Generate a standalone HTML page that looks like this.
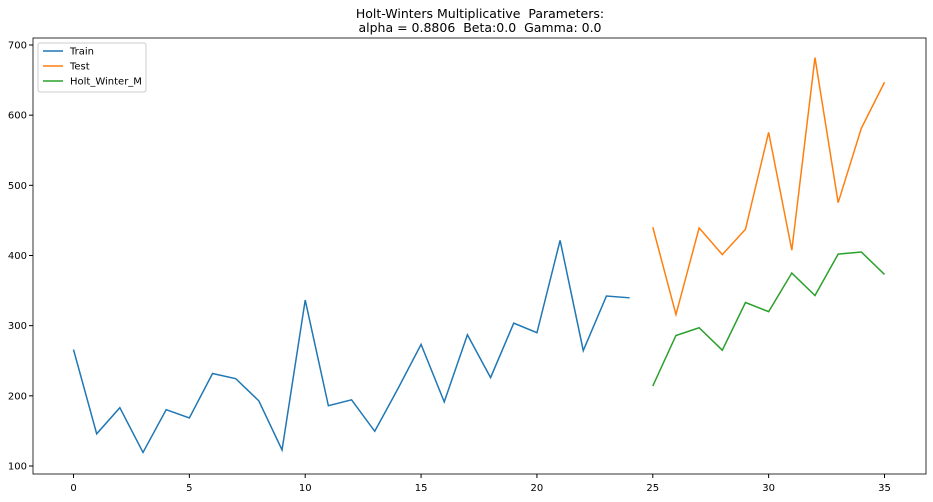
<!DOCTYPE html>
<html><head><meta charset="utf-8"><style>
body{margin:0;background:#fff;font-family:"Liberation Sans","DejaVu Sans",sans-serif}
svg text{font-family:"DejaVu Sans","Liberation Sans",sans-serif;white-space:pre}
</style></head><body>
<svg id="chart" width="933" height="497" xmlns="http://www.w3.org/2000/svg"></svg>
<script>
const trainX=[0,1,2,3,4,5,6,7,8,9,10,11,12,13,14,15,16,17,18,19,20,21,22,23,24];
const trainY=[266.0,145.9,183.1,119.3,180.3,168.5,231.8,224.5,192.8,122.9,336.5,185.9,194.3,149.5,210.1,273.3,191.4,287.0,226.0,303.6,289.9,421.6,264.5,342.3,339.7];
const testX=[25,26,27,28,29,30,31,32,33,34,35];
const testY=[440.4,315.9,439.3,401.3,437.4,575.5,407.6,682.0,475.3,581.3,646.9];
const hwY=[214,286,297,265,333,320,375,343,402,405,373];
const xTicks=[0,5,10,15,20,25,30,35];
const yTicks=[100,200,300,400,500,600,700];
const NS="http://www.w3.org/2000/svg";
const svg=document.getElementById('chart');
const L=33,R=926,T=38,B=474;
const sx=v=>73.5+(v-0)*(884.5-73.5)/35;
const sy=v=>466-(v-100)*(466-45)/600;
function mk(tag,attrs,parent){const e=document.createElementNS(NS,tag);for(const k in attrs)e.setAttribute(k,attrs[k]);(parent||svg).appendChild(e);return e;}
let t1=mk('text',{x:480,y:18,'text-anchor':'middle','font-size':12.5,fill:'#000'});t1.textContent='Holt-Winters Multiplicative  Parameters:';


let t2=mk('text',{x:480,y:32,'text-anchor':'middle','font-size':12.5,fill:'#000'});t2.textContent='alpha = 0.8806  Beta:0.0  Gamma: 0.0';


xTicks.forEach(v=>{const x=sx(v);mk('line',{x1:x,x2:x,y1:B,y2:B+4,stroke:'#000'});const t=mk('text',{x:x,y:B+17,'text-anchor':'middle','font-size':10,fill:'#000'});t.textContent=v;

});
yTicks.forEach(v=>{const y=sy(v);mk('line',{x1:L-4,x2:L,y1:y,y2:y,stroke:'#000'});const t=mk('text',{x:L-6,y:y+3.5,'text-anchor':'end','font-size':10,fill:'#000'});t.textContent=v;

});
function line(xs,ys,color,name){const p=mk('polyline',{points:xs.map((x,i)=>sx(x)+','+sy(ys[i])).join(' '),fill:'none',stroke:color,'stroke-width':1.5});

}
line(trainX,trainY,'#1f77b4','train-line');
line(testX,testY,'#ff7f0e','test-line');
line(testX,hwY,'#2ca02c','holt-winter-line');
const frame=mk('rect',{x:L,y:T,width:R-L,height:B-T,fill:'none',stroke:'#000','stroke-width':0.8});


const lg=mk('g',{});


mk('rect',{x:38,y:43,width:108,height:49,rx:2,fill:'#fff',stroke:'#ccc'},lg);
[['Train','#1f77b4'],['Test','#ff7f0e'],['Holt_Winter_M','#2ca02c']].forEach((d,i)=>{const y=51+i*15;mk('line',{x1:43,x2:63,y1:y,y2:y,stroke:d[1],'stroke-width':1.5},lg);const t=mk('text',{x:70,y:y+3.5,'font-size':10,fill:'#000'},lg);t.textContent=d[0];

});
</script>
</body></html>
